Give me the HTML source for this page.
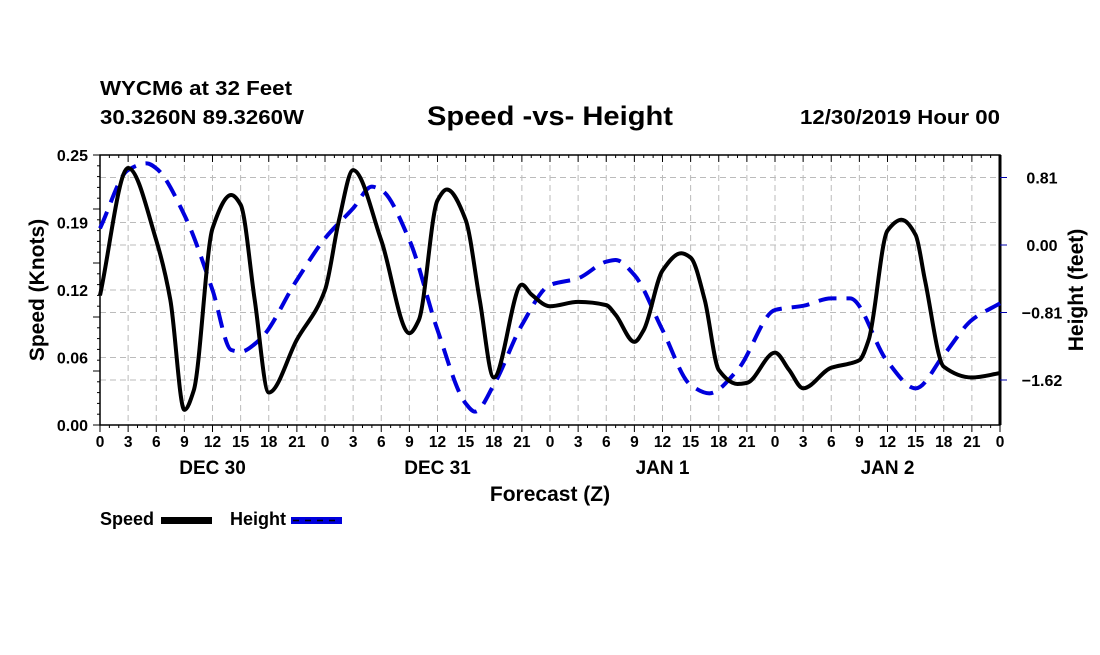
<!DOCTYPE html>
<html><head><meta charset="utf-8"><style>
body{margin:0;background:#fff}
svg text{font-family:"Liberation Sans",Arial,sans-serif;font-weight:bold;fill:#000}
</style></head><body>
<svg id="c" width="1100" height="650" viewBox="0 0 1100 650">
<text x="100" y="95" font-size="20" textLength="192" lengthAdjust="spacingAndGlyphs">WYCM6 at 32 Feet</text>
<text x="100" y="124" font-size="20" textLength="204" lengthAdjust="spacingAndGlyphs">30.3260N 89.3260W</text>
<text x="427" y="125" font-size="27" textLength="246" lengthAdjust="spacingAndGlyphs">Speed -vs- Height</text>
<text x="800" y="124" font-size="20" textLength="200" lengthAdjust="spacingAndGlyphs">12/30/2019 Hour 00</text>
<g id="grid"></g><g id="axes"></g><g id="series"></g>
<text x="550" y="501" font-size="21" text-anchor="middle">Forecast (Z)</text>
<text transform="translate(44,290) rotate(-90)" font-size="21" text-anchor="middle">Speed (Knots)</text>
<text transform="translate(1083,290) rotate(-90)" font-size="21" text-anchor="middle">Height (feet)</text>
<g>
<text x="100" y="525" font-size="18">Speed</text>
<rect x="161" y="517" width="51" height="7" fill="#000"/>
<text x="230" y="525" font-size="18">Height</text>
<rect x="291" y="517" width="51" height="7" fill="#0000dd"/>
<line x1="293" y1="520.5" x2="340" y2="520.5" stroke="#000" stroke-width="1.5" stroke-dasharray="6,6"/>
</g>
</svg>
<script>
const speedHours=[0,3,6,7.5,9,10,12,14,15,16.5,18,21,24,25.5,27,30,33,34,36,37,39,40.5,42,45,46,48,51,54,55,57,58,60,62,63,64.5,66,68,69,72,73.5,75,78,80,81,82,84,85.5,87,88,90,93,96];
const speedVals=[0.12,0.238,0.171,0.116,0.014,0.032,0.182,0.213,0.204,0.116,0.03,0.079,0.125,0.19,0.236,0.171,0.085,0.097,0.208,0.218,0.19,0.116,0.044,0.13,0.121,0.11,0.114,0.111,0.102,0.077,0.088,0.143,0.159,0.155,0.116,0.051,0.038,0.039,0.067,0.051,0.034,0.053,0.057,0.06,0.079,0.18,0.19,0.176,0.134,0.054,0.044,0.048];
const heightHours=[0,3,5,6,9,12,14,15,17,21,24,27,29,30,33,36,39,40,42,45,48,51,54,55,57,60,63,65,68,72,75,78,80,84,87,90,93,96];
const heightVals=[0.2,0.9,0.98,0.92,0.36,-0.54,-1.26,-1.28,-1.14,-0.42,0.08,0.44,0.7,0.66,0.06,-1.02,-1.9,-2.0,-1.68,-0.96,-0.48,-0.4,-0.2,-0.18,-0.36,-1.02,-1.68,-1.78,-1.5,-0.78,-0.73,-0.64,-0.64,-1.4,-1.72,-1.32,-0.9,-0.7];
const hourTickLabels=["0","3","6","9","12","15","18","21","0","3","6","9","12","15","18","21","0","3","6","9","12","15","18","21","0","3","6","9","12","15","18","21","0"];
const dayLabels=["DEC 30","DEC 31","JAN 1","JAN 2"];
const speedTicks=[0,0.0625,0.125,0.1875,0.25];
const speedTickLabels=["0.00","0.06","0.12","0.19","0.25"];
const heightTicks=[0.81,0,-0.81,-1.62];
const heightTickLabels=["0.81","0.00","\u22120.81","\u22121.62"];
const L=100,R=1000,T=155,B=425;
const X=h=>L+h*(R-L)/96;
const YS=v=>B-v*(B-T)/0.25;
const YH=v=>245-v*67.5/0.81;
const NS="http://www.w3.org/2000/svg";
function mk(p,tag,at){const e=document.createElementNS(NS,tag);for(const k in at)e.setAttribute(k,at[k]);p.appendChild(e);return e;}
const grid=document.getElementById('grid'),axes=document.getElementById('axes'),ser=document.getElementById('series');
for(let i=1;i<32;i++){const l=mk(grid,'line',{x1:X(i*3),x2:X(i*3),y1:T,y2:B,stroke:'#bbb','stroke-dasharray':'6,4'});

}
[...speedTicks.slice(1,4).map(YS),...heightTicks.map(YH)].forEach(y=>{const l=mk(grid,'line',{x1:L,x2:R,y1:y,y2:y,stroke:'#bbb','stroke-dasharray':'6,4'});

});
mk(axes,'rect',{x:L,y:T,width:R-L,height:B-T,fill:'none',stroke:'#000','stroke-width':1.5});
mk(axes,'line',{x1:R,x2:R,y1:T,y2:B,stroke:'#000','stroke-width':3});
for(let h=0;h<=96;h++){const len=h%3==0?7:3;
mk(axes,'line',{x1:X(h),x2:X(h),y1:B,y2:B+len,stroke:'#000'});
mk(axes,'line',{x1:X(h),x2:X(h),y1:T,y2:T+len,stroke:'#000'});}
hourTickLabels.forEach((s,i)=>{const t=mk(axes,'text',{x:X(i*3),y:B+22,'font-size':15.5,'text-anchor':'middle'});t.textContent=s;

});
dayLabels.forEach((s,i)=>{const t=mk(axes,'text',{x:X(12+24*i),y:B+49,'font-size':19,'text-anchor':'middle'});t.textContent=s;

});
for(let k=0;k<=25;k++){const y=B-k*(B-T)/25;mk(axes,'line',{x1:L-(k%5==0?7:3),x2:L,y1:y,y2:y,stroke:'#000'});}
speedTicks.forEach((v,i)=>{const t=mk(axes,'text',{x:L-12,y:YS(v)+6,'font-size':16,'text-anchor':'end'});t.textContent=speedTickLabels[i];

});
heightTicks.forEach((v,i)=>{mk(axes,'line',{x1:R,x2:R+7,y1:YH(v),y2:YH(v),stroke:'#0000aa'});
const t=mk(axes,'text',{x:R+42,y:YH(v)+6,'font-size':16,'text-anchor':'middle'});t.textContent=heightTickLabels[i];

});
function smooth(xs,ys){const n=xs.length,d=[],m=new Array(n);
for(let i=0;i<n-1;i++)d.push((ys[i+1]-ys[i])/(xs[i+1]-xs[i]));
m[0]=d[0];m[n-1]=d[n-2];
for(let i=1;i<n-1;i++){if(d[i-1]*d[i]<=0)m[i]=0;else{const w1=2*(xs[i+1]-xs[i])+(xs[i]-xs[i-1]),w2=(xs[i+1]-xs[i])+2*(xs[i]-xs[i-1]);m[i]=(w1+w2)/(w1/d[i-1]+w2/d[i]);}}
let p=`M${xs[0]},${ys[0]}`;
for(let i=0;i<n-1;i++){const h=(xs[i+1]-xs[i])/3;p+=`C${xs[i]+h},${ys[i]+m[i]*h} ${xs[i+1]-h},${ys[i+1]-m[i+1]*h} ${xs[i+1]},${ys[i+1]}`;}
return p;}
const hp=mk(ser,'path',{d:smooth(heightHours.map(X),heightVals.map(YH)),fill:'none',stroke:'#0000dd','stroke-width':4,'stroke-dasharray':'18,10'});


const sp=mk(ser,'path',{d:smooth(speedHours.map(X),speedVals.map(YS)),fill:'none',stroke:'#000','stroke-width':4,'stroke-linejoin':'round'});


</script>
</body></html>
